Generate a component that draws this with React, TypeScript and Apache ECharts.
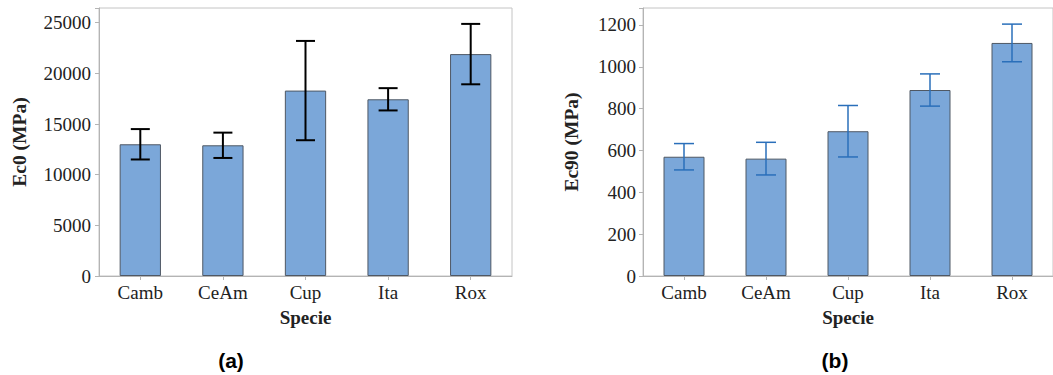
import React, { useEffect, useRef } from "react";
import * as echarts from "echarts";

const categories = ["Camb", "CeAm", "Cup", "Ita", "Rox"];
const ec0Mean = [13000, 12900, 18300, 17440, 21900];
const ec0Err = [1500, 1250, 4900, 1100, 2980];
const ec90Mean = [570, 561, 692, 889, 1114];
const ec90Err = [63, 78, 123, 77, 90];
const ec0Interval = 5000;
const ec90Interval = 200;

const serif = "'Liberation Serif', 'Times New Roman', serif";
const sans = "'Liberation Sans', Arial, sans-serif";

function errData(mean: number[], err: number[]) {
  return mean.map((m, i) => [i, m - err[i], m + err[i]]);
}

function makeErrRender(color: string, lw: number, capHalf: number) {
  return (params: any, api: any) => {
    const i = api.value(0);
    const lo = api.coord([i, api.value(1)]);
    const hi = api.coord([i, api.value(2)]);
    const style = { stroke: color, lineWidth: lw };
    return {
      type: "group",
      children: [
        { type: "line", shape: { x1: hi[0], y1: hi[1], x2: lo[0], y2: lo[1] }, style },
        { type: "line", shape: { x1: hi[0] - capHalf, y1: hi[1], x2: hi[0] + capHalf, y2: hi[1] }, style },
        { type: "line", shape: { x1: lo[0] - capHalf, y1: lo[1], x2: lo[0] + capHalf, y2: lo[1] }, style },
      ],
    };
  };
}

export default function App() {
  const ref = useRef<HTMLDivElement>(null);
  useEffect(() => {
    if (!ref.current) return;
    const chart = echarts.init(ref.current, null, { renderer: "svg" });
    const axisLineColor = "#b4b4b4";
    const labelStyle = { fontFamily: serif, fontSize: 19, color: "#222" };
    const xAxisBase = {
      type: "category",
      data: categories,
      boundaryGap: true,
      axisLine: { lineStyle: { color: axisLineColor, width: 1 } },
      axisTick: { show: true, alignWithLabel: true, length: 4, lineStyle: { color: axisLineColor } },
      axisLabel: { ...labelStyle, margin: 7 },
      name: "Specie",
      nameLocation: "middle",
      nameGap: 32,
      nameTextStyle: { fontFamily: serif, fontSize: 19, fontWeight: "bold", color: "#222" },
      splitLine: { show: false },
    };
    const yAxisBase = {
      type: "value",
      min: 0,
      axisLine: { show: true, lineStyle: { color: axisLineColor, width: 1 } },
      axisTick: { show: true, length: 4, lineStyle: { color: axisLineColor } },
      splitLine: { show: false },
      nameLocation: "middle",
      nameTextStyle: { fontFamily: serif, fontSize: 19.5, fontWeight: "bold", color: "#222" },
    };
    const option: any = {
      animation: false,
      backgroundColor: "#fff",
      textStyle: { fontFamily: serif },
      grid: [
        { left: 99, top: 8, width: 413, height: 268, show: true, borderColor: "#c4c4c4", borderWidth: 1, backgroundColor: "transparent" },
        { left: 643, top: 8, width: 420, height: 268, show: true, borderColor: "#c4c4c4", borderWidth: 1, backgroundColor: "transparent" },
      ],
      xAxis: [
        { ...xAxisBase, gridIndex: 0 },
        { ...xAxisBase, gridIndex: 1 },
      ],
      yAxis: [
        {
          ...yAxisBase,
          gridIndex: 0,
          max: 26450,
          interval: ec0Interval,
          name: "Ec0 (MPa)",
          nameGap: 70,
          axisLabel: {
            ...labelStyle,
            margin: 8,
            formatter: (v: number) => (v % ec0Interval === 0 ? String(v) : ""),
          },
        },
        {
          ...yAxisBase,
          gridIndex: 1,
          max: 1281,
          interval: ec90Interval,
          name: "Ec90 (MPa)",
          nameGap: 62,
          axisLabel: {
            ...labelStyle,
            margin: 7,
            formatter: (v: number) => (v % ec90Interval === 0 ? String(v) : ""),
          },
        },
      ],
      series: [
        {
          type: "bar",
          xAxisIndex: 0,
          yAxisIndex: 0,
          data: ec0Mean,
          barWidth: "50%",
          itemStyle: { color: "#7ba7d9", borderColor: "#4f5864", borderWidth: 1 },
        },
        {
          type: "custom",
          xAxisIndex: 0,
          yAxisIndex: 0,
          data: errData(ec0Mean, ec0Err),
          renderItem: makeErrRender("#000", 2, 9.5),
          z: 5,
        },
        {
          type: "bar",
          xAxisIndex: 1,
          yAxisIndex: 1,
          data: ec90Mean,
          barWidth: "50%",
          itemStyle: { color: "#7ba7d9", borderColor: "#4f5864", borderWidth: 1 },
        },
        {
          type: "custom",
          xAxisIndex: 1,
          yAxisIndex: 1,
          data: errData(ec90Mean, ec90Err),
          renderItem: makeErrRender("#2a6fba", 1.5, 10),
          z: 5,
        },
      ],
      graphic: [
        {
          type: "text",
          x: 231,
          y: 360,
          style: { text: "(a)", fontFamily: sans, fontSize: 21, fontWeight: "bold", fill: "#000", textAlign: "center", textVerticalAlign: "middle" },
        },
        {
          type: "text",
          x: 835,
          y: 360,
          style: { text: "(b)", fontFamily: sans, fontSize: 21, fontWeight: "bold", fill: "#000", textAlign: "center", textVerticalAlign: "middle" },
        },
      ],
    };
    chart.setOption(option);
    return () => chart.dispose();
  }, []);
  return (
    <div
      ref={ref}
      style={{ position: "fixed", left: 0, top: 0, width: 1053, height: 375, background: "#fff" }}
    />
  );
}
